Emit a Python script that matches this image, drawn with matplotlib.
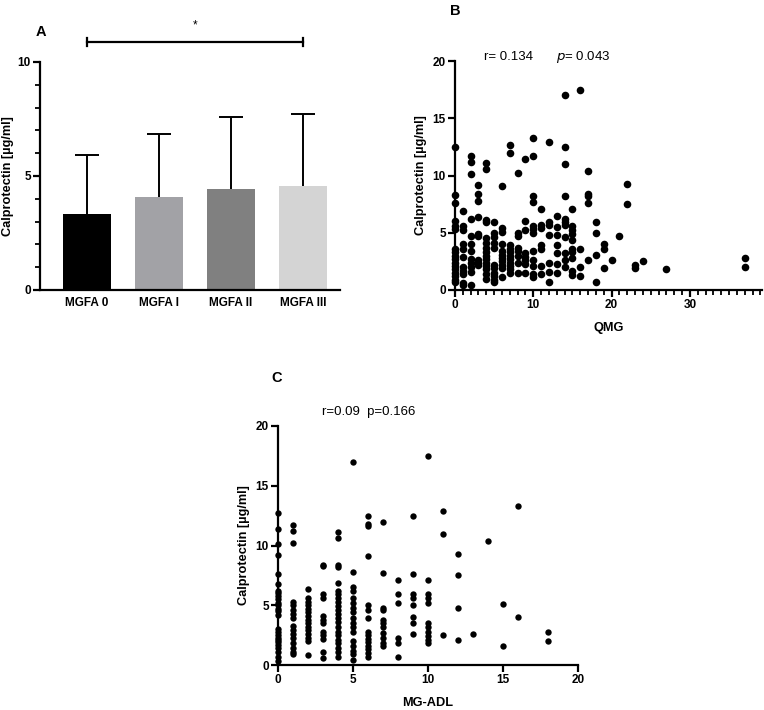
import numpy as np
import matplotlib
matplotlib.use("Agg")
import matplotlib.pyplot as plt
from matplotlib.ticker import MultipleLocator

plt.rcParams['font.family'] = ['Liberation Sans', 'DejaVu Sans']

# Panel A: mean calprotectin per MGFA class
groups = ["MGFA 0", "MGFA I", "MGFA II", "MGFA III"]
means = [3.32, 4.08, 4.43, 4.56]
sds = [2.62, 2.75, 3.17, 3.16]
bar_colors = ["#000000", "#a2a2a6", "#808080", "#d4d4d4"]

# Panel B: QMG score vs calprotectin (one list per QMG value)
qmg_cols = {
    0: [12.5, 8.3, 7.6, 6.0, 5.6, 5.3, 3.6, 3.3, 3.0, 2.7, 2.4, 2.1, 1.8, 1.5, 1.2, 0.9, 0.7],
    1: [6.9, 5.6, 5.2, 4.0, 3.6, 2.9, 2.0, 1.7, 1.4, 0.6, 0.4],
    2: [11.7, 11.2, 10.1, 6.2, 4.7, 4.0, 3.4, 2.7, 2.4, 2.0, 1.6, 0.4],
    3: [9.2, 8.4, 7.8, 6.4, 4.9, 4.7, 2.6, 2.4, 2.2],
    4: [11.1, 10.6, 6.1, 5.9, 4.5, 4.1, 3.7, 3.3, 3.0, 2.7, 2.4, 2.1, 1.8, 1.4, 1.0],
    5: [5.9, 5.0, 4.6, 4.1, 3.7, 2.2, 1.9, 1.5, 1.2, 0.9, 0.7],
    6: [9.1, 5.4, 5.1, 4.0, 3.4, 3.1, 2.8, 2.5, 2.2, 1.9, 1.1],
    7: [12.7, 12.0, 3.9, 3.6, 3.3, 3.0, 2.7, 2.4, 2.1, 1.8, 1.5],
    8: [10.2, 5.0, 4.7, 3.7, 3.4, 3.0, 2.4, 1.5],
    9: [11.4, 6.0, 5.2, 3.2, 2.9, 2.6, 2.3, 1.5],
    10: [13.3, 11.7, 8.2, 7.7, 5.6, 5.3, 5.0, 3.4, 2.6, 2.1, 1.4, 1.1],
    11: [7.1, 5.7, 5.4, 3.9, 3.6, 2.1, 1.4],
    12: [12.9, 5.9, 5.7, 4.8, 2.4, 1.6, 0.7],
    13: [6.5, 5.5, 4.8, 3.9, 3.2, 2.3, 1.5],
    14: [17.0, 12.5, 11.0, 8.2, 6.2, 5.9, 5.7, 4.6, 3.2, 2.6, 2.0],
    15: [7.1, 5.6, 5.2, 4.9, 4.4, 3.6, 3.3, 2.8, 1.7, 1.3],
    16: [17.5, 3.6, 2.0, 1.2],
    17: [10.4, 8.4, 8.2, 7.6, 2.6],
    18: [5.9, 5.0, 3.1, 0.7],
    19: [4.0, 3.6, 1.9],
    20: [2.6],
    21: [4.7],
    22: [9.3, 7.5],
    23: [2.2, 1.9],
    24: [2.5],
    27: [1.8],
    37: [2.8, 2.0],
}

# Panel C: MG-ADL score vs calprotectin
adl_cols = {
    0: [12.7, 11.4, 10.1, 9.2, 7.6, 6.8, 6.2, 6.0, 5.8, 5.5, 5.2, 5.0, 4.7, 4.5, 4.2,
        3.0, 2.8, 2.5, 2.3, 2.1, 1.9, 1.7, 1.4, 1.1, 0.7, 0.3],
    1: [11.7, 11.2, 10.2, 5.3, 5.0, 4.6, 4.3, 3.9, 3.3, 2.9, 2.6, 2.3, 1.8, 1.4, 1.1, 0.9],
    2: [6.4, 5.6, 5.3, 5.0, 4.7, 4.4, 4.1, 3.8, 3.5, 3.2, 2.9, 2.6, 2.3, 2.0, 0.8],
    3: [8.4, 8.3, 5.9, 5.6, 4.1, 3.8, 3.5, 2.8, 2.5, 2.2, 1.1, 0.6],
    4: [11.1, 10.6, 8.4, 8.2, 6.9, 6.2, 5.9, 5.6, 5.3, 4.9, 4.6, 4.3, 3.9, 3.6, 3.2,
        2.8, 2.5, 2.1, 1.8, 1.4, 1.1, 0.7],
    5: [17.0, 7.8, 6.5, 6.2, 5.6, 5.2, 4.8, 4.4, 3.9, 3.5, 3.2, 2.8, 2.0, 1.6, 1.2, 0.9, 0.4],
    6: [12.5, 11.8, 11.6, 9.1, 5.0, 4.6, 3.9, 2.8, 2.5, 2.2, 1.9, 1.6, 1.3, 1.0, 0.7],
    7: [12.0, 7.7, 4.8, 4.6, 3.8, 3.5, 3.2, 2.7, 2.3, 1.8, 1.6],
    8: [7.1, 5.9, 5.2, 2.3, 1.8, 0.7],
    9: [12.5, 7.6, 5.9, 5.6, 5.0, 4.0, 3.5, 2.6],
    10: [17.5, 7.1, 5.9, 5.6, 5.2, 3.5, 3.2, 2.8, 2.4, 2.1, 1.8],
    11: [12.9, 11.0, 2.5],
    12: [9.3, 7.5, 4.8, 2.1],
    13: [2.6],
    14: [10.4],
    15: [5.1, 1.6],
    16: [13.3, 4.0],
    18: [2.8, 2.0],
}

W, H = 764, 710
fig = plt.figure(figsize=(W / 100, H / 100), dpi=100)


def box(l, t, r, b):
    return [l / W, 1 - b / H, (r - l) / W, (b - t) / H]


def style(ax):
    for s in ["top", "right"]:
        ax.spines[s].set_visible(False)
    for s in ["left", "bottom"]:
        ax.spines[s].set_linewidth(1.6)
    ax.tick_params(width=1.6, length=5, labelsize=8.5, pad=1.5)
    ax.tick_params(which="minor", width=1.3, length=3.5)
    for lab in ax.get_xticklabels() + ax.get_yticklabels():
        lab.set_fontweight("bold")


def pts(cols):
    xs, ys = [], []
    for k, vals in cols.items():
        xs += [k] * len(vals)
        ys += vals
    return np.array(xs), np.array(ys)


# ---- A ----
axA = fig.add_axes(box(40, 62, 340, 290))
xpos = np.arange(len(groups))
tops = np.array(means) + np.array(sds)
axA.bar(xpos, means, width=0.66, color=bar_colors, zorder=2)
axA.vlines(xpos, means, tops, color="black", lw=1.4, zorder=1)
axA.hlines(tops, xpos - 0.165, xpos + 0.165, color="black", lw=1.4, zorder=1)
axA.set_xlim(-0.65, 3.51)
axA.set_ylim(0, 10)
axA.set_yticks([0, 5, 10])
axA.yaxis.set_minor_locator(MultipleLocator(1))
axA.set_xticks(xpos)
axA.set_xticklabels(groups)
style(axA)
axA.tick_params(axis="x", length=0, pad=5)
axA.set_ylabel("Calprotectin [µg/ml]", fontsize=9.2, fontweight="bold", labelpad=3)
# significance bracket
axA.plot([0, 3], [10.88, 10.88], color="black", lw=1.6, clip_on=False)
axA.plot([0, 0], [10.7, 11.06], color="black", lw=1.6, clip_on=False)
axA.plot([3, 3], [10.7, 11.06], color="black", lw=1.6, clip_on=False)
axA.text(1.5, 11.6, "*", ha="center", va="center", fontsize=8.5)
fig.text(36 / W, 1 - 32 / H, "A", fontsize=10.5, fontweight="bold", va="center")

# ---- B ----
axB = fig.add_axes(box(455, 61, 762, 290))
bx, by = pts(qmg_cols)
axB.scatter(bx, by, s=30, color="black", linewidths=0, clip_on=False, zorder=3)
axB.set_xlim(0, 39.2)
axB.set_ylim(0, 20)
axB.set_xticks([0, 10, 20, 30])
axB.xaxis.set_minor_locator(MultipleLocator(1))
axB.set_yticks([0, 5, 10, 15, 20])
style(axB)
axB.set_xlabel("QMG", fontsize=9.2, fontweight="bold", labelpad=8)
axB.set_ylabel("Calprotectin [µg/ml]", fontsize=9.2, fontweight="bold", labelpad=4)
fig.text(484 / W, 1 - 57 / H, "r= 0.134", fontsize=9.5, va="center")
fig.text(556 / W, 1 - 57 / H, r"$\it{p}$= 0.043", fontsize=9.5, va="center")
fig.text(450 / W, 1 - 11 / H, "B", fontsize=10.5, fontweight="bold", va="center")

# ---- C ----
axC = fig.add_axes(box(278, 426, 578, 665))
cx, cy = pts(adl_cols)
axC.scatter(cx, cy, s=21, color="black", linewidths=0, clip_on=False, zorder=3)
axC.set_xlim(0, 20)
axC.set_ylim(0, 20)
axC.set_xticks([0, 5, 10, 15, 20])
axC.set_yticks([0, 5, 10, 15, 20])
style(axC)
axC.set_xlabel("MG-ADL", fontsize=9.2, fontweight="bold", labelpad=8)
axC.set_ylabel("Calprotectin [µg/ml]", fontsize=9.2, fontweight="bold", labelpad=4)
fig.text(322 / W, 1 - 412 / H, "r=0.09  p=0.166", fontsize=9.5, va="center")
fig.text(271 / W, 1 - 378 / H, "C", fontsize=10.5, fontweight="bold", va="center")

fig.savefig("out.png", dpi=100)
